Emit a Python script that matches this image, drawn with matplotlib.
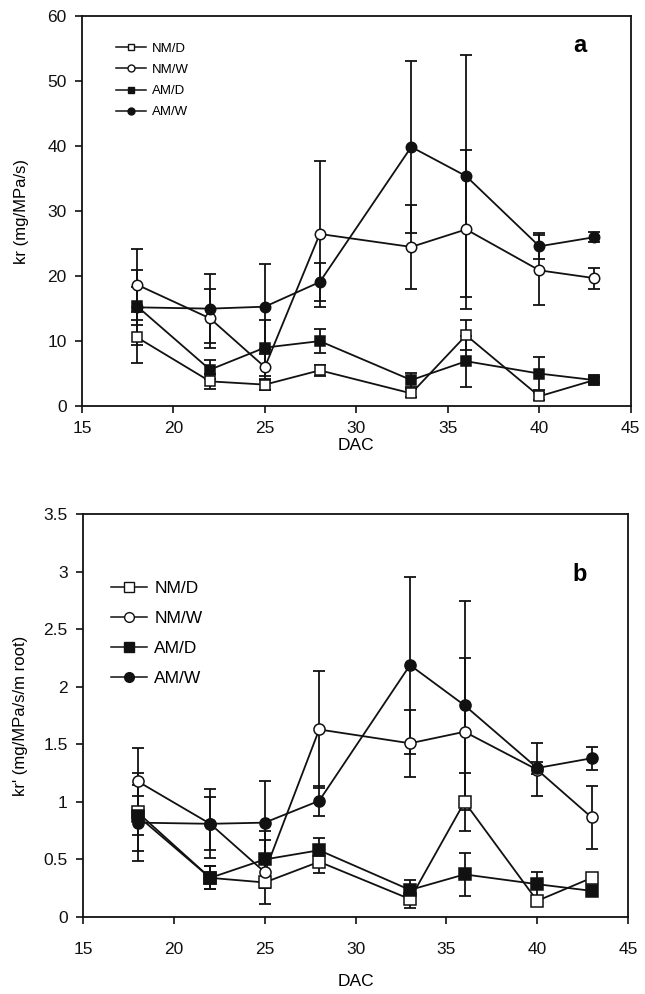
import matplotlib.pyplot as plt

plt.rcParams['font.family'] = ['Liberation Sans', 'DejaVu Sans']

# days after colonisation
dac = [18, 22, 25, 28, 33, 36, 40, 43]

# panel a: kr (mg/MPa/s)
nmd_a = [10.6, 3.8, 3.3, 5.5, 1.95, 10.9, 1.5, 4.0]
nmd_a_err = [3.9, 1.2, 0.8, 0.8, 0.6, 2.3, 0.5, 0.5]
nmw_a = [18.7, 13.5, 6.0, 26.5, 24.5, 27.2, 20.9, 19.7]
nmw_a_err = [5.5, 4.5, 2.0, 11.2, 6.4, 12.2, 5.4, 1.6]
amd_a = [15.4, 5.6, 9.0, 10.0, 4.0, 6.9, 5.0, 4.0]
amd_a_err = [2.9, 1.5, 4.3, 1.9, 1.1, 3.9, 2.6, 0.5]
amw_a = [15.2, 15.0, 15.3, 19.1, 39.9, 35.4, 24.6, 26.0]
amw_a_err = [5.8, 5.3, 6.5, 3.0, 13.2, 18.6, 2.0, 0.8]

# panel b: kr' (mg/MPa/s/m root)
nmd_b = [0.91, 0.34, 0.30, 0.48, 0.155, 1.00, 0.14, 0.34]
nmd_b_err = [0.34, 0.10, 0.05, 0.10, 0.08, 0.25, 0.04, 0.03]
nmw_b = [1.18, 0.81, 0.39, 1.63, 1.51, 1.61, 1.28, 0.865]
nmw_b_err = [0.29, 0.23, 0.28, 0.51, 0.29, 0.64, 0.23, 0.27]
amd_b = [0.88, 0.34, 0.50, 0.58, 0.235, 0.37, 0.285, 0.227]
amd_b_err = [0.17, 0.10, 0.25, 0.11, 0.09, 0.19, 0.11, 0.03]
amw_b = [0.82, 0.81, 0.82, 1.01, 2.19, 1.84, 1.295, 1.38]
amw_b_err = [0.33, 0.30, 0.36, 0.13, 0.77, 0.91, 0.05, 0.10]

labels = ["NM/D", "NM/W", "AM/D", "AM/W"]
markers = ["s", "o", "s", "o"]
faces = ["white", "white", "#111111", "#111111"]

fig = plt.figure(figsize=(6.45, 9.94), dpi=100)
ax1 = fig.add_axes([0.127, 0.5915, 0.851, 0.392])
ax2 = fig.add_axes([0.1287, 0.0775, 0.845, 0.405])


def draw(ax, series, errs, ms, leg_ms, leg_fs, spacing, leg_anchor, hl):
    for i, (y, e) in enumerate(zip(series, errs)):
        ax.errorbar(dac, y, yerr=e, fmt='none', ecolor='#111111',
                    elinewidth=1.3, capsize=4.5, capthick=1.3, zorder=2)
        ax.plot(dac, y, color='#111111', lw=1.3, marker=markers[i],
                markersize=ms, markerfacecolor=faces[i],
                markeredgecolor='#111111', markeredgewidth=1.1,
                zorder=3 + i)
    # legend handles without error bars
    handles = []
    for i in range(4):
        h, = ax.plot([], [], color='#111111', lw=1.1, marker=markers[i],
                     markersize=leg_ms, markerfacecolor=faces[i],
                     markeredgecolor='#111111', markeredgewidth=1.0)
        handles.append(h)
    ax.legend(handles, labels, loc='upper left', bbox_to_anchor=leg_anchor,
              frameon=False, fontsize=leg_fs, handlelength=hl,
              handletextpad=0.4, labelspacing=spacing, borderpad=0)
    ax.set_xlim(15, 45)
    ax.set_xticks([15, 20, 25, 30, 35, 40, 45])
    ax.tick_params(direction='out', length=5, width=1.2, labelsize=12.5,
                   colors='#111111', pad=6)
    for s in ax.spines.values():
        s.set_linewidth(1.3)
        s.set_color('#111111')


draw(ax1, [nmd_a, nmw_a, amd_a, amw_a],
     [nmd_a_err, nmw_a_err, amd_a_err, amw_a_err],
     ms=7.5, leg_ms=5, leg_fs=9.5, spacing=0.68, leg_anchor=(0.05, 0.95),
     hl=2.3)
ax1.set_ylim(0, 60)
ax1.set_yticks([0, 10, 20, 30, 40, 50, 60])
ax1.set_ylabel("kr (mg/MPa/s)", fontsize=12, labelpad=13)
ax1.set_xlabel("DAC", fontsize=12.5, labelpad=1)
ax1.text(0.907, 0.925, "a", transform=ax1.transAxes, fontsize=17,
         fontweight='bold', ha='center', va='center')

draw(ax2, [nmd_b, nmw_b, amd_b, amw_b],
     [nmd_b_err, nmw_b_err, amd_b_err, amw_b_err],
     ms=8, leg_ms=7, leg_fs=12.5, spacing=0.86, leg_anchor=(0.035, 0.857),
     hl=2.1)
ax2.set_ylim(0, 3.5)
ax2.set_yticks([0, 0.5, 1, 1.5, 2, 2.5, 3, 3.5])
ax2.set_yticklabels(["0", "0.5", "1", "1.5", "2", "2.5", "3", "3.5"])
ax2.tick_params(axis='x', pad=13)
ax2.set_ylabel("kr' (mg/MPa/s/m root)", fontsize=12, labelpad=11)
ax2.set_xlabel("DAC", fontsize=12.5, labelpad=12)
ax2.text(0.912, 0.85, "b", transform=ax2.transAxes, fontsize=17,
         fontweight='bold', ha='center', va='center')

fig.savefig("out.png", dpi=100)
